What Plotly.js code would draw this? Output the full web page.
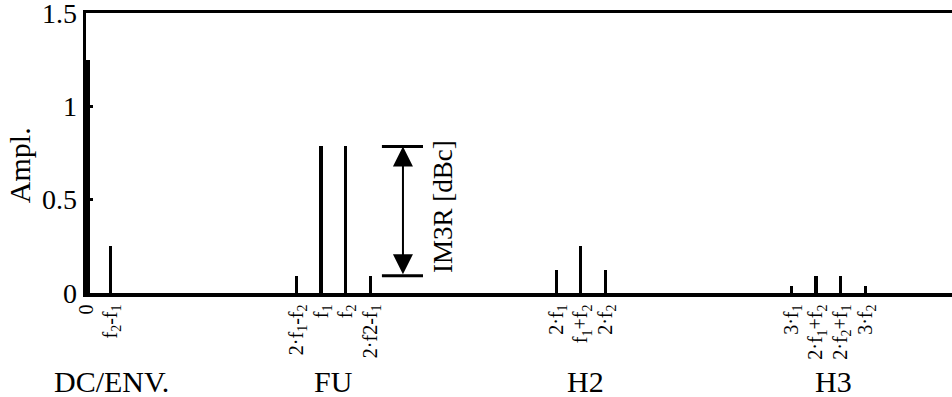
<!DOCTYPE html>
<html>
<head>
<meta charset="utf-8">
<script src="https://cdn.plot.ly/plotly-3.0.1.min.js"></script>
<style>html,body{margin:0;padding:0;background:#fff;}#chart{width:952px;height:397px;}</style>
</head>
<body>
<div id="chart"></div>
<script>
// Spectral lines (frequency in units, amplitude)
const freqs = [0, 1, 8.5, 9.5, 10.5, 11.5, 19, 20, 21, 28.5, 29.5, 30.5, 31.5];
const amps  = [1.25, 0.25, 0.092, 0.785, 0.785, 0.092, 0.125, 0.25, 0.125, 0.035, 0.093, 0.093, 0.035];
const lineWidths = [0.36, 0.13, 0.13, 0.13, 0.13, 0.13, 0.13, 0.13, 0.13, 0.13, 0.13, 0.13, 0.13];
const tickLabels = ["0", "f<sub>2</sub>-f<sub>1</sub>", "2·f<sub>1</sub>-f<sub>2</sub>", "f<sub>1</sub>", "f<sub>2</sub>",
  "2·f2-f<sub>1</sub>", "2·f<sub>1</sub>", "f<sub>1</sub>+f<sub>2</sub>", "2·f<sub>2</sub>",
  "3·f<sub>1</sub>", "2·f<sub>1</sub>+f<sub>2</sub>", "2·f<sub>2</sub>+f<sub>1</sub>", "3·f<sub>2</sub>"];
const groupNames = ["DC/ENV.", "FU", "H2", "H3"];
const groupPos = [1.05, 10, 20.2, 30.2];
const yTicks = [0, 0.5, 1, 1.5];
const yTickText = ["0", "0.5", "1", "1.5"];

// IM3R marker references the fundamental (index 3) and IM3 product (index 5)
const fundAmp = amps[3];
const im3Amp = amps[5];
const arrowX = 12.81;
const capX0 = 11.96, capX1 = 13.62;

const serif = "Times New Roman";

const trace = {
  type: "bar",
  x: freqs,
  y: amps,
  width: lineWidths,
  marker: {color: "#000", line: {width: 0}},
  hoverinfo: "none"
};

const annotations = groupNames.map((n, i) => ({
  text: n, x: groupPos[i], xref: "x", y: -0.315, yref: "paper",
  xanchor: "center", yanchor: "middle", showarrow: false,
  font: {family: serif, size: 30, color: "#000"}
}));

annotations.push({
  text: "Ampl.", textangle: -90, x: -0.076, xref: "paper", y: 0.686, yref: "y",
  xanchor: "center", yanchor: "middle", showarrow: false,
  font: {family: serif, size: 30, color: "#000"}
});

annotations.push({
  text: "", x: arrowX, y: fundAmp, xref: "x", yref: "y",
  ax: arrowX, ay: im3Amp, axref: "x", ayref: "y",
  showarrow: true, arrowside: "end+start", arrowhead: 2, startarrowhead: 2,
  arrowsize: 2, startarrowsize: 2, arrowwidth: 2, arrowcolor: "#000",
  standoff: 0, startstandoff: 0
});

annotations.push({
  text: "IM3R [dBc]", textangle: -90, x: 14.45, y: (fundAmp + im3Amp) / 2 + 0.025,
  xref: "x", yref: "y", xanchor: "center", yanchor: "middle", showarrow: false,
  font: {family: serif, size: 27, color: "#000"}
});

const shapes = [fundAmp, im3Amp].map(v => ({
  type: "line", xref: "x", yref: "y", x0: capX0, x1: capX1, y0: v, y1: v,
  line: {color: "#000", width: 3}
}));

const layout = {
  width: 952, height: 397,
  margin: {l: 86, r: 0, t: 13, b: 104, pad: 0},
  paper_bgcolor: "#fff", plot_bgcolor: "#fff",
  showlegend: false,
  bargap: 0,
  xaxis: {
    range: [0, 35], showgrid: false, zeroline: false,
    showline: true, linecolor: "#000", linewidth: 3.5, mirror: true,
    ticks: "", tickmode: "array", tickvals: freqs, ticktext: tickLabels,
    tickangle: -90, tickfont: {family: serif, size: 20, color: "#000"},
    ticklabeloverflow: "allow",
    fixedrange: true
  },
  yaxis: {
    range: [0, 1.5], showgrid: false, zeroline: false,
    showline: true, linecolor: "#000", linewidth: 3.5, mirror: false,
    ticks: "inside", ticklen: 7, tickwidth: 3, tickcolor: "#000",
    tickmode: "array", tickvals: yTicks, ticktext: yTickText,
    tickfont: {family: serif, size: 28, color: "#000"},
    ticklabeloverflow: "allow",
    fixedrange: true
  },
  annotations: annotations,
  shapes: shapes,
  font: {family: serif, color: "#000"}
};

Plotly.newPlot("chart", [trace], layout, {displayModeBar: false, staticPlot: true});
</script>
</body>
</html>
